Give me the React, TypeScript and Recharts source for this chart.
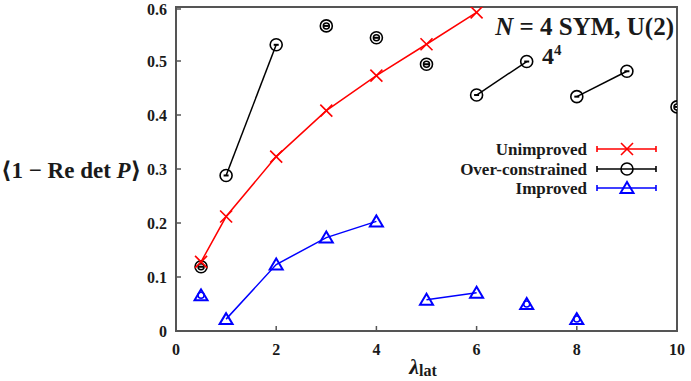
import React from 'react';
import { ComposedChart, Line, XAxis, YAxis, Scatter, ReferenceArea } from 'recharts';

// lambda_lat values and <1 - Re det P> values
const lambdaUnimproved = [0.5, 1, 2, 3, 4, 5, 6];
const valuesUnimproved = [0.128, 0.212, 0.323, 0.408, 0.473, 0.531, 0.59];
const segmentsUnimproved = [[0.5, 1, 2, 3, 4, 5, 6]];

const lambdaOver = [0.5, 1, 2, 3, 4, 5, 6, 7, 8, 9, 10];
const valuesOver = [0.119, 0.288, 0.53, 0.565, 0.543, 0.494, 0.437, 0.499, 0.434, 0.481, 0.415];
const segmentsOver = [[0.5], [1, 2], [3], [4], [5], [6, 7], [8, 9], [10]];

const lambdaImproved = [0.5, 1, 2, 3, 4, 5, 6, 7, 8];
const valuesImproved = [0.066, 0.022, 0.123, 0.173, 0.203, 0.058, 0.071, 0.05, 0.022];
const segmentsImproved = [[0.5], [1, 2, 3, 4], [5, 6], [7], [8]];

const xDomain = [0, 10];
const yDomain = [0, 0.6];
const xTicks = [0, 2, 4, 6, 8, 10];
const yTicks = [0, 0.1, 0.2, 0.3, 0.4, 0.5, 0.6];
const yTickLabels = ['0', '0.1', '0.2', '0.3', '0.4', '0.5', '0.6'];

const legendLabels = ['Unimproved', 'Over-constrained', 'Improved'];

const RED = '#ff0000';
const BLACK = '#000000';
const BLUE = '#0000ff';
const AXIS = '#555555';
const TXT = '#1a1a1a';
const FONT = '"Liberation Serif", "DejaVu Serif", serif';
const TICK_LEN = 5;

const toPoints = (xs: number[], ys: number[]) => xs.map((x, i) => ({ x, y: ys[i] }));
const ptsUnimproved = toPoints(lambdaUnimproved, valuesUnimproved);
const ptsOver = toPoints(lambdaOver, valuesOver);
const ptsImproved = toPoints(lambdaImproved, valuesImproved);

const segData = (pts: { x: number; y: number }[], segs: number[][]) =>
  segs.map((s) => pts.filter((p) => s.includes(p.x)));

const XMark = ({ cx, cy, color = RED }: any) => (
  <g>
    <line x1={cx - 6} y1={cy - 6} x2={cx + 6} y2={cy + 6} stroke={color} strokeWidth={1.6} />
    <line x1={cx - 6} y1={cy + 6} x2={cx + 6} y2={cy - 6} stroke={color} strokeWidth={1.6} />
  </g>
);

const CircleMark = ({ cx, cy, bar = true }: any) => (
  <g>
    <circle cx={cx} cy={cy} r={6} fill="none" stroke={BLACK} strokeWidth={1.6} />
    {bar && <rect x={cx - 2.5} y={cy - 1} width={5} height={2} fill={BLACK} />}
  </g>
);

const TriMark = ({ cx, cy }: any) => (
  <polygon
    points={`${cx},${cy - 6} ${cx - 6.5},${cy + 5} ${cx + 6.5},${cy + 5}`}
    fill="none"
    stroke={BLUE}
    strokeWidth={2}
  />
);

const XM = 9; // bottom tick margin
const YM = 9; // left tick margin

const XTick = ({ x, y, payload }: any) => (
  <g>
    <line x1={x} y1={y - XM} x2={x} y2={y - XM - TICK_LEN} stroke={AXIS} strokeWidth={1.5} />
    <text x={x} y={y + 9} textAnchor="middle" dominantBaseline="central" fontFamily={FONT} fontWeight="bold" fontSize={16} fill={TXT}>
      {payload.value}
    </text>
  </g>
);

const TopTick = ({ x, y }: any) => (
  <line x1={x} y1={y} x2={x} y2={y + TICK_LEN} stroke={AXIS} strokeWidth={1.5} />
);

const YTick = ({ x, y, payload }: any) => {
  const idx = yTicks.indexOf(payload.value);
  return (
    <g>
      <line x1={x + YM} y1={y} x2={x + YM + TICK_LEN} y2={y} stroke={AXIS} strokeWidth={1.5} />
      <text x={x} y={y} textAnchor="end" dominantBaseline="central" fontFamily={FONT} fontWeight="bold" fontSize={16} fill={TXT}>
        {idx >= 0 ? yTickLabels[idx] : payload.value}
      </text>
    </g>
  );
};

const RightTick = ({ x, y }: any) => (
  <line x1={x} y1={y} x2={x - TICK_LEN} y2={y} stroke={AXIS} strokeWidth={1.5} />
);

const LegendRow = ({ y, label, color, marker }: any) => (
  <g>
    <text x={587} y={y} textAnchor="end" dominantBaseline="central" fontFamily={FONT} fontWeight="bold" fontSize={17} fill={TXT}>
      {label}
    </text>
    <line x1={597} y1={y} x2={656} y2={y} stroke={color} strokeWidth={1.6} />
    <line x1={597} y1={y - 3} x2={597} y2={y + 3} stroke={color} strokeWidth={1.6} />
    <line x1={656} y1={y - 3} x2={656} y2={y + 3} stroke={color} strokeWidth={1.6} />
    {marker}
  </g>
);

const axisLine = { stroke: AXIS, strokeWidth: 2 };

export default function App() {
  const uSegs = segData(ptsUnimproved, segmentsUnimproved);
  const oSegs = segData(ptsOver, segmentsOver);
  const iSegs = segData(ptsImproved, segmentsImproved);
  return (
    <div style={{ position: 'absolute', left: 0, top: 0, width: 691, height: 381, background: '#fff' }}>
      <ComposedChart width={691} height={381} margin={{ top: 7, right: 14, bottom: 0, left: 0 }}>
        <XAxis
          xAxisId="b"
          type="number"
          dataKey="x"
          domain={xDomain}
          ticks={xTicks}
          allowDataOverflow
          orientation="bottom"
          height={50}
          axisLine={axisLine}
          tickLine={false}
          tickSize={0}
          tickMargin={XM}
          tick={<XTick />}
        />
        <XAxis
          xAxisId="t"
          type="number"
          dataKey="x"
          domain={xDomain}
          ticks={xTicks}
          allowDataOverflow
          orientation="top"
          height={0}
          axisLine={axisLine}
          tickLine={false}
          tickSize={0}
          tickMargin={0}
          tick={<TopTick />}
        />
        <YAxis
          yAxisId="l"
          type="number"
          dataKey="y"
          domain={yDomain}
          ticks={yTicks}
          allowDataOverflow
          orientation="left"
          width={176}
          axisLine={axisLine}
          tickLine={false}
          tickSize={0}
          tickMargin={YM}
          tick={<YTick />}
        />
        <YAxis
          yAxisId="r"
          type="number"
          dataKey="y"
          domain={yDomain}
          ticks={yTicks}
          allowDataOverflow
          orientation="right"
          width={0}
          axisLine={axisLine}
          tickLine={false}
          tickSize={0}
          tickMargin={0}
          tick={<RightTick />}
        />
        <ReferenceArea
          xAxisId="b"
          yAxisId="l"
          x1={xDomain[0]}
          x2={xDomain[1]}
          y1={yDomain[0]}
          y2={yDomain[1]}
          fill="none"
          fillOpacity={0}
          stroke={AXIS}
          strokeWidth={2}
          ifOverflow="visible"
        />
        {uSegs.map((d, i) => (
          <Line key={'u' + i} xAxisId="b" yAxisId="l" data={d} dataKey="y" stroke={RED} strokeWidth={1.5} dot={false} isAnimationActive={false} />
        ))}
        {oSegs.map((d, i) => (
          <Line key={'o' + i} xAxisId="b" yAxisId="l" data={d} dataKey="y" stroke={BLACK} strokeWidth={1.5} dot={false} isAnimationActive={false} />
        ))}
        {iSegs.map((d, i) => (
          <Line key={'i' + i} xAxisId="b" yAxisId="l" data={d} dataKey="y" stroke={BLUE} strokeWidth={1.5} dot={false} isAnimationActive={false} />
        ))}
        <Scatter xAxisId="b" yAxisId="l" data={ptsOver} dataKey="y" shape={(p: any) => <CircleMark cx={p.cx} cy={p.cy} />} isAnimationActive={false} />
        <Scatter xAxisId="b" yAxisId="l" data={ptsUnimproved} dataKey="y" shape={(p: any) => <XMark cx={p.cx} cy={p.cy} />} isAnimationActive={false} />
        <Scatter xAxisId="b" yAxisId="l" data={ptsImproved} dataKey="y" shape={(p: any) => <TriMark cx={p.cx} cy={p.cy} />} isAnimationActive={false} />
      </ComposedChart>
      <svg width={691} height={381} style={{ position: 'absolute', left: 0, top: 0, pointerEvents: 'none' }}>
        <text x={674} y={35} textAnchor="end" fontFamily={FONT} fontWeight="bold" fontSize={25} fill={TXT}>
          <tspan fontStyle="italic">N</tspan>
          <tspan> = 4 SYM, U(2)</tspan>
        </text>
        <text x={542} y={64} fontFamily={FONT} fontWeight="bold" fontSize={24} fill={TXT}>
          <tspan>4</tspan>
          <tspan fontSize={15} dy={-9}>4</tspan>
        </text>
        <text x={1} y={178} fontFamily={FONT} fontWeight="bold" fontSize={23} fill={TXT}>
          <tspan>⟨1 − Re det </tspan>
          <tspan fontStyle="italic">P</tspan>
          <tspan>⟩</tspan>
        </text>
        <text x={423} y={374} textAnchor="middle" fontFamily={FONT} fontWeight="bold" fontSize={22} fill={TXT}>
          <tspan fontStyle="italic">λ</tspan>
          <tspan fontSize={16} dy={2}>lat</tspan>
        </text>
        <LegendRow y={149} label={legendLabels[0]} color={RED} marker={<XMark cx={627} cy={149} />} />
        <LegendRow y={169} label={legendLabels[1]} color={BLACK} marker={<CircleMark cx={627} cy={169} bar={false} />} />
        <LegendRow y={188} label={legendLabels[2]} color={BLUE} marker={<TriMark cx={627} cy={188} />} />
      </svg>
    </div>
  );
}
